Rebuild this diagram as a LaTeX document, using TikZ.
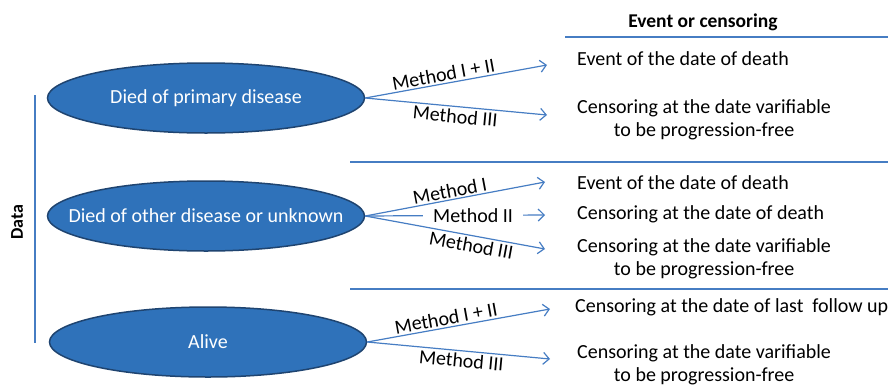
\documentclass[tikz,border=0pt]{standalone}
\usepackage{fontspec}
\setmainfont{Carlito}
\usetikzlibrary{shapes.geometric,arrows.meta}
\definecolor{boxblue}{RGB}{47,114,186}
\definecolor{edgeblue}{RGB}{31,68,112}
\definecolor{lineblue}{RGB}{70,125,195}
\begin{document}
\begin{tikzpicture}[x=1pt, y=-1pt,
  every node/.style = {font=\fontsize{20}{23}\selectfont},
  datagroup/.style = {ellipse, draw=edgeblue, line width=1.5pt, fill=boxblue,
    minimum width=317pt, minimum height=70pt, inner sep=0pt},
  result/.style = {anchor=west, align=center, inner sep=0pt},
  method/.style = {sloped, inner sep=2pt},
  arr/.style = {draw=lineblue, line width=1.2pt,
    -{Straight Barb[length=6pt,width=12pt]}},
  hrule/.style = {draw=lineblue, line width=1.5pt}]
  \useasboundingbox (0,0) rectangle (888,386);
  % groups of the data
  \node[datagroup, label={[text=white]center:Died of primary disease}] (primary) at (206,98) {};
  \node[datagroup, label={[text=white]center:Died of other disease or unknown}] (other) at (206,216) {};
  \node[datagroup, label={[text=white]center:Alive}] (alive) at (208,342) {};
  \draw[hrule] (35,95) -- (35,343);
  \node[rotate=90, font=\bfseries\fontsize{18}{22}\selectfont] (data) at (17,222) {Data};
  % event or censoring column
  \node[font=\bfseries\fontsize{19.5}{22}\selectfont] (head) at (703,22) {Event or censoring};
  \draw[hrule] (565,37) -- (888,37);
  \draw[hrule] (350,162) -- (888,162);
  \draw[hrule] (350,289) -- (888,289);
  \node[result] (r11) at (577,59) {Event of the date of death};
  \node[result] (r12) at (577,120) {Censoring at the date varifiable\\to be progression-free};
  \node[result] (r21) at (577,183) {Event of the date of death};
  \node[result] (r22) at (577,214) {Censoring at the date of death};
  \node[result] (r23) at (577,259) {Censoring at the date varifiable\\to be progression-free};
  \node[result] (r31) at (575,307) {Censoring at the date of last \ follow up};
  \node[result] (r32) at (577,365) {Censoring at the date varifiable\\to be progression-free};
  \coordinate (t11) at (547,65);
  \coordinate (t12) at (547,115);
  \coordinate (t21) at (545,182);
  \coordinate (t22) at (545,215);
  \coordinate (t23) at (545,249);
  \coordinate (t31) at (550,309);
  \coordinate (t32) at (550,359);
  % methods
  \draw[arr] (primary.east) -- node[method, above, pos=0.44] {Method I + II} (t11);
  \draw[arr] (primary.east) -- node[method, below, pos=0.5] {Method III} (t12);
  \draw[arr] (other.east) -- node[method, above, pos=0.48, inner sep=1pt] {Method I} (t21);
  \draw[arr] (other.east) -- node[pos=0.6, fill=white, inner xsep=10pt, inner ysep=0pt] {Method II} (t22);
  \draw[arr] (other.east) -- node[method, below=2pt, pos=0.6, inner sep=0pt] {Method III} (t23);
  \draw[arr] (alive.east) -- node[method, above, pos=0.44] {Method I + II} (t31);
  \draw[arr] (alive.east) -- node[method, below, pos=0.52] {Method III} (t32);
\end{tikzpicture}
\end{document}
